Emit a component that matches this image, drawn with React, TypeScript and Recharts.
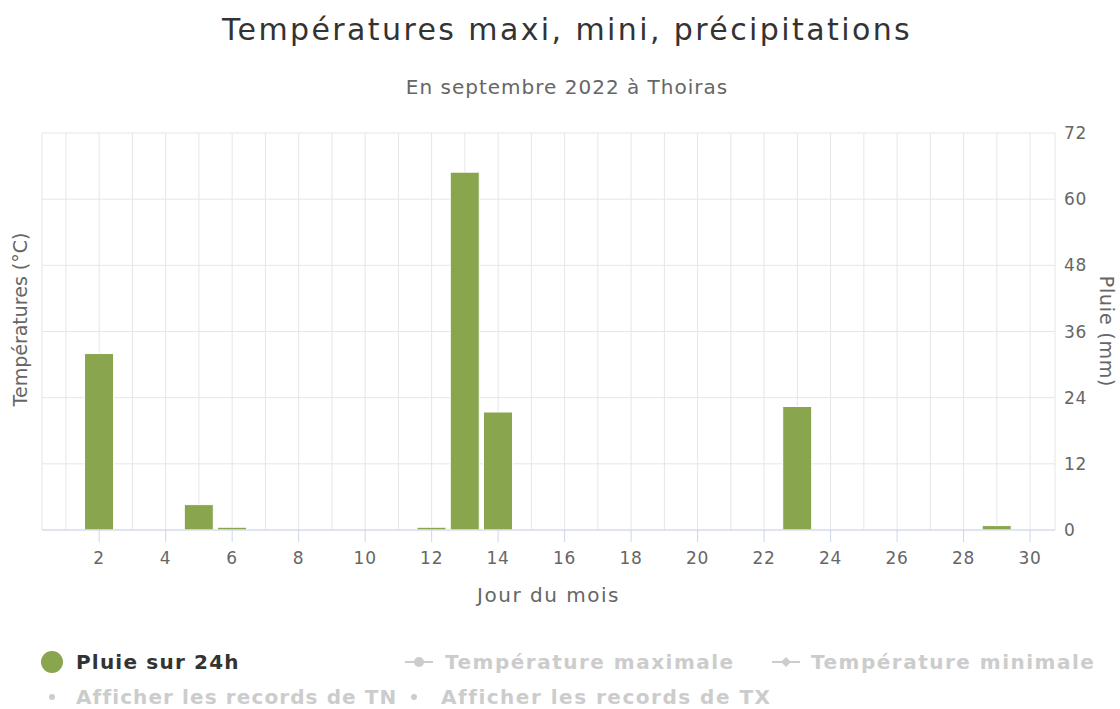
import { BarChart, Bar, XAxis, YAxis, CartesianGrid, Label } from "recharts";

const days = [1, 2, 3, 4, 5, 6, 7, 8, 9, 10, 11, 12, 13, 14, 15, 16, 17, 18, 19, 20, 21, 22, 23, 24, 25, 26, 27, 28, 29, 30];
const rain = [0, 32.0, 0, 0, 4.6, 0.5, 0, 0, 0, 0, 0, 0.5, 64.9, 21.4, 0, 0, 0, 0, 0, 0, 0, 0, 22.4, 0, 0, 0, 0, 0, 0.8, 0];
const rainTicks = [0, 12, 24, 36, 48, 60, 72];

const title = "Températures maxi, mini, précipitations";
const subtitle = "En septembre 2022 à Thoiras";

const data = days.map((d, i) => ({ day: d, rain: rain[i] }));

const FONT = "'DejaVu Sans', Verdana, sans-serif";

function DayTick(props: any) {
  const { x, y, payload } = props;
  if (payload.value % 2 !== 0) return <g />;
  return (
    <g>
      <line x1={x} x2={x} y1={y} y2={y + 12} stroke="#ccd6eb" strokeWidth={1} />
      <text x={x} y={y + 34} textAnchor="middle" fill="#666666" fontSize={17} letterSpacing={0.8} fontFamily={FONT}>
        {payload.value}
      </text>
    </g>
  );
}

export default function App() {
  return (
    <div style={{ position: "absolute", left: 0, top: 0, width: 1120, height: 709, background: "#fff", fontFamily: FONT }}>
      <div style={{ position: "absolute", left: 14, width: 1106, top: 12, textAlign: "center", fontSize: 30, letterSpacing: 2.4, color: "#333333" }}>
        {title}
      </div>
      <div style={{ position: "absolute", left: 14, width: 1106, top: 75, textAlign: "center", fontSize: 20, letterSpacing: 1, color: "#666666" }}>
        {subtitle}
      </div>
      <div style={{ position: "absolute", left: 0, top: 0 }}>
        <BarChart width={1120} height={620} data={data} margin={{ top: 133, right: 0, bottom: 0, left: 0 }}>
          <CartesianGrid yAxisId="rain" stroke="#e6e6e6" strokeWidth={1} />
          <XAxis
            dataKey="day"
            type="number"
            domain={[0.28, 30.75]}
            ticks={days}
            interval={0}
            allowDataOverflow
            height={90}
            tickSize={0}
            tickMargin={0}
            tickLine={false}
            axisLine={{ stroke: "#ccd6eb" }}
            tick={<DayTick />}
          >
            <Label
              content={(p: any) => {
                const vb = p.viewBox;
                return (
                  <text x={vb.x + vb.width / 2} y={vb.y + 72} textAnchor="middle" fill="#666666" fontSize={20} letterSpacing={1.5} fontFamily={FONT}>
                    Jour du mois
                  </text>
                );
              }}
            />
          </XAxis>
          <YAxis yAxisId="temp" orientation="left" width={42} tick={false} tickLine={false} axisLine={false}>
            <Label
              content={(p: any) => {
                const vb = p.viewBox;
                const cx = vb.x + 20;
                const cy = vb.y + vb.height / 2 - 12;
                return (
                  <text x={cx} y={cy} transform={`rotate(-90 ${cx} ${cy})`} textAnchor="middle" dominantBaseline="central" fill="#666666" fontSize={19} fontFamily={FONT}>
                    Températures (°C)
                  </text>
                );
              }}
            />
          </YAxis>
          <YAxis
            yAxisId="rain"
            orientation="right"
            width={65}
            domain={[0, 72]}
            ticks={rainTicks}
            tickSize={0}
            tickMargin={9}
            tickLine={false}
            axisLine={false}
            tick={{ fill: "#666666", fontSize: 17, fontFamily: FONT, textAnchor: "start", letterSpacing: 0.8 }}
          >
            <Label
              content={(p: any) => {
                const vb = p.viewBox;
                const cx = vb.x + 52;
                const cy = vb.y + vb.height / 2;
                return (
                  <text x={cx} y={cy} transform={`rotate(90 ${cx} ${cy})`} textAnchor="middle" dominantBaseline="central" fill="#666666" fontSize={19} letterSpacing={0.8} fontFamily={FONT}>
                    Pluie (mm)
                  </text>
                );
              }}
            />
          </YAxis>
          <Bar yAxisId="rain" dataKey="rain" fill="#89a54e" stroke="#ffffff" strokeWidth={1} barSize={29} isAnimationActive={false} />
        </BarChart>
      </div>
      <svg style={{ position: "absolute", left: 0, top: 630 }} width={1120} height={79} fontFamily={FONT} fontWeight="bold" fontSize={20} letterSpacing={1.5}>
        <circle cx={52} cy={32} r={11} fill="#89a54e" />
        <text x={76} y={32} dominantBaseline="central" fill="#333333" letterSpacing={1.2}>Pluie sur 24h</text>
        <line x1={405} x2={433} y1={32} y2={32} stroke="#cccccc" strokeWidth={2} />
        <circle cx={419} cy={32} r={5} fill="#cccccc" />
        <text x={445} y={32} dominantBaseline="central" fill="#cccccc">Température maximale</text>
        <line x1={772} x2={800} y1={32} y2={32} stroke="#cccccc" strokeWidth={2} />
        <path d="M786 27 L791 32 L786 37 L781 32 Z" fill="#cccccc" />
        <text x={811} y={32} dominantBaseline="central" fill="#cccccc">Température minimale</text>
        <circle cx={52} cy={67} r={3} fill="#cccccc" />
        <text x={76} y={67} dominantBaseline="central" fill="#cccccc" letterSpacing={1.1}>Afficher les records de TN</text>
        <circle cx={414} cy={67} r={3} fill="#cccccc" />
        <text x={441} y={67} dominantBaseline="central" fill="#cccccc">Afficher les records de TX</text>
      </svg>
    </div>
  );
}
